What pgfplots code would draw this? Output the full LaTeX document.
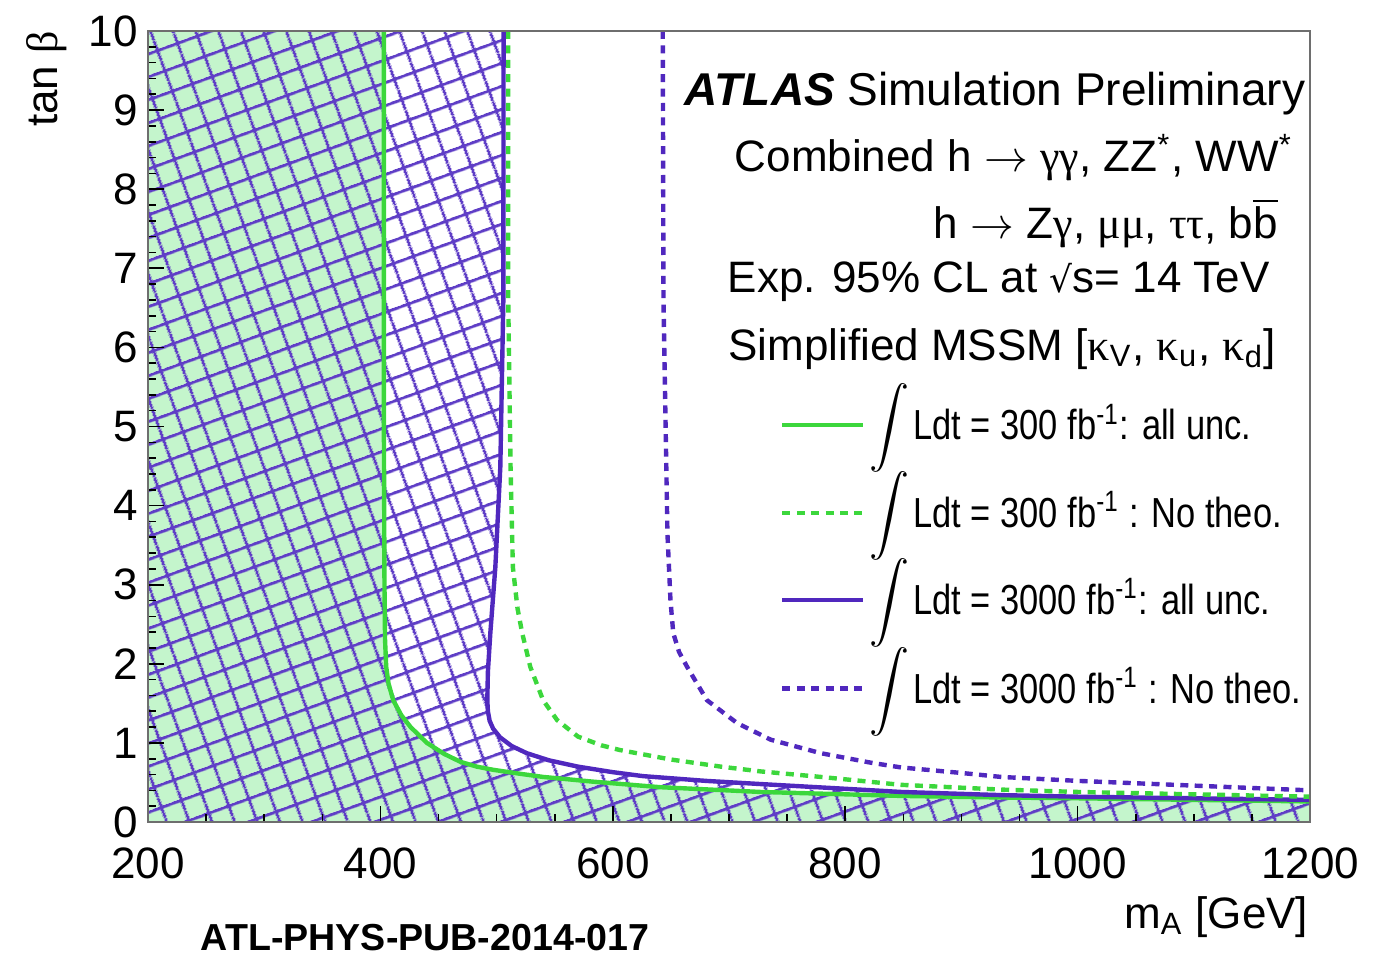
\documentclass[border=0pt]{standalone}
\usepackage{pgfplots}
\pgfplotsset{compat=1.18}
\usepackage{fontspec}
\setmainfont{Liberation Sans}
\newfontfamily\grk{Liberation Serif}
\newfontfamily\dejavu{DejaVu Sans}
\newfontfamily\narrowsf[FakeStretch=0.82]{Liberation Sans}
\usetikzlibrary{patterns.meta}

\definecolor{gline}{RGB}{60,215,60}
\definecolor{pline}{RGB}{80,40,190}
\definecolor{gfill}{RGB}{196,245,204}
\definecolor{hatchc}{RGB}{95,62,198}
\definecolor{framegray}{RGB}{110,110,110}

\tikzdeclarepattern{
  name=rotgrid,
  type=uncolored,
  bottom left={(0pt,0pt)},
  top right={(5.3pt,5.3pt)},
  tile size={(5.3pt,5.3pt)},
  tile transformation={rotate=20},
  code={
    \draw[line width=0.72pt] (0pt,2.65pt) -- (5.3pt,2.65pt) (2.65pt,0pt) -- (2.65pt,5.3pt);
  }
}

\begin{document}
\begin{tikzpicture}
\begin{axis}[
  scale only axis, width=290.5pt, height=197.75pt,
  xmin=200, xmax=1200, ymin=0, ymax=10,
  xtick={200,400,...,1200}, ytick={0,1,...,10},
  minor x tick num=3, minor y tick num=4,
  tick align=inside, tick pos=left,
  major tick length=4pt, minor tick length=2pt,
  axis line style={draw=framegray, line width=0.7pt},
  every tick/.style={black, line width=0.4pt},
  ticklabel style={font=\fontsize{11}{13}\selectfont},
  /pgf/number format/assume math mode=true,
  /pgf/number format/1000 sep={},
  xticklabel style={yshift=-3pt},
  yticklabel style={xshift=1pt},
  clip=false,
  axis on top,
]
\coordinate (sw) at (rel axis cs:0,0);
\coordinate (ne) at (rel axis cs:1,1);

% green filled region (300 fb-1, all unc.)
\addplot[draw=none, fill=gfill] coordinates {
 (200,0) (200,10) (403,10) (403,5) (403.5,3) (404,2.3) (405,1.96) (407,1.75) (411,1.54)
 (418,1.35) (426,1.2) (440,1.0) (455,0.86) (469,0.76) (483,0.7) (497,0.66) (520,0.61)
 (540,0.57) (583,0.51) (641,0.44) (727,0.38) (800,0.35) (848,0.33) (934,0.31) (1000,0.30)
 (1100,0.28) (1200,0.26) (1200,0)} -- cycle;

% purple hatched region (3000 fb-1, all unc.)
\addplot[draw=none, pattern=rotgrid, pattern color=hatchc] coordinates {
 (200,0) (200,10) (506,10) (505.8,6.6) (503.2,4.49) (498.9,3.22) (494.6,2.39) (492.5,1.9)
 (492,1.54) (492.5,1.4) (494,1.28) (497,1.18) (503,1.07) (513,0.96) (526,0.87) (545,0.78)
 (570,0.70) (600,0.63) (626,0.58) (680,0.52) (727,0.48) (800,0.42) (848,0.38) (934,0.34)
 (1000,0.32) (1100,0.30) (1200,0.28) (1200,0)} -- cycle;

% green solid
\addplot[gline, line width=1.1pt] coordinates {
 (403,10) (403,5) (403.5,3) (404,2.3) (405,1.96) (407,1.75) (411,1.54)
 (418,1.35) (426,1.2) (440,1.0) (455,0.86) (469,0.76) (483,0.7) (497,0.66) (520,0.61)
 (540,0.57) (583,0.51) (641,0.44) (727,0.38) (800,0.35) (848,0.33) (934,0.31) (1000,0.30)
 (1100,0.28) (1200,0.26)};

% purple solid
\addplot[pline, line width=1.1pt] coordinates {
 (506,10) (505.8,6.6) (503.2,4.49) (498.9,3.22) (494.6,2.39) (492.5,1.9)
 (492,1.54) (492.5,1.4) (494,1.28) (497,1.18) (503,1.07) (513,0.96) (526,0.87) (545,0.78)
 (570,0.70) (600,0.63) (626,0.58) (680,0.52) (727,0.48) (800,0.42) (848,0.38) (934,0.34)
 (1000,0.32) (1100,0.30) (1200,0.28)};

% green dotted
\addplot[gline, line width=1.1pt, dash pattern=on 2pt off 1.6pt] coordinates {
 (510,10) (510,6.6) (512,4.49) (514,3.22) (518,2.7) (522,2.39) (529,1.96) (540,1.54)
 (552,1.29) (570,1.08) (590,0.97) (606,0.91) (650,0.79) (693,0.70) (727,0.64) (779,0.57)
 (848,0.47) (934,0.41) (1000,0.38) (1100,0.35) (1200,0.32)};

% purple dotted
\addplot[pline, line width=1.1pt, dash pattern=on 2pt off 1.6pt] coordinates {
 (643,10) (643.6,6.6) (647,3.65) (649.6,2.81) (652,2.39) (657,2.15) (664,1.96) (681,1.54)
 (707,1.25) (736,1.04) (779,0.87) (822,0.75) (848,0.69) (900,0.62) (934,0.57) (1000,0.52)
 (1100,0.46) (1200,0.40)};

% text block
\node[anchor=base east, font=\fontsize{11.5}{13}\selectfont, inner sep=0pt] at (axis cs:1196.6,9.06)
  {\textbf{\textit{ATLAS}} Simulation Preliminary};
\node[anchor=base east, font=\fontsize{11}{13}\selectfont, inner sep=0pt] at (axis cs:1186,8.22)
  {Combined h $\rightarrow$ {\grk γγ}, ZZ\textsuperscript{*}, WW\textsuperscript{*}};
\node[anchor=base east, font=\fontsize{11}{13}\selectfont, inner sep=0pt] at (axis cs:1173,7.38)
  {h $\rightarrow$ Z{\grk γ}, {\grk μμ}, {\grk ττ}, b$\overline{\mbox{b}}$};
\node[anchor=base east, font=\fontsize{11}{13}\selectfont, inner sep=0pt] at (axis cs:1166,6.69)
  {Exp. 95\% CL at {\dejavu\fontsize{9}{11}\selectfont √}s= 14 TeV};
\node[anchor=base east, font=\fontsize{11}{13}\selectfont, inner sep=0pt] at (axis cs:1171.6,5.84)
  {Simplified MSSM [{\grk κ}\textsubscript{V}, {\grk κ}\textsubscript{u}, {\grk κ}\textsubscript{d}]};

% legend
\draw[gline, line width=1.1pt] (axis cs:746,5.02) -- (axis cs:815,5.02);
\draw[gline, line width=1.1pt, dash pattern=on 2pt off 1.6pt] (axis cs:746,3.91) -- (axis cs:815,3.91);
\draw[pline, line width=1.1pt] (axis cs:746,2.81) -- (axis cs:815,2.81);
\draw[pline, line width=1.1pt, dash pattern=on 2pt off 1.6pt] (axis cs:746,1.69) -- (axis cs:815,1.69);
\node[font=\fontsize{7.5}{9}\selectfont, inner sep=0pt] at (axis cs:838,4.98) {$\displaystyle\int$};
\node[font=\fontsize{7.5}{9}\selectfont, inner sep=0pt] at (axis cs:838,3.87) {$\displaystyle\int$};
\node[font=\fontsize{7.5}{9}\selectfont, inner sep=0pt] at (axis cs:838,2.77) {$\displaystyle\int$};
\node[font=\fontsize{7.5}{9}\selectfont, inner sep=0pt] at (axis cs:838,1.65) {$\displaystyle\int$};
\node[anchor=base west, font=\narrowsf\fontsize{10.5}{12}\selectfont, inner sep=0pt] at (axis cs:858,4.83)
  {Ldt = 300 fb\textsuperscript{-1}: all unc.};
\node[anchor=base west, font=\narrowsf\fontsize{10.5}{12}\selectfont, inner sep=0pt] at (axis cs:858,3.72)
  {Ldt = 300 fb\textsuperscript{-1} : No theo.};
\node[anchor=base west, font=\narrowsf\fontsize{10.5}{12}\selectfont, inner sep=0pt] at (axis cs:858,2.62)
  {Ldt = 3000 fb\textsuperscript{-1}: all unc.};
\node[anchor=base west, font=\narrowsf\fontsize{10.5}{12}\selectfont, inner sep=0pt] at (axis cs:858,1.50)
  {Ldt = 3000 fb\textsuperscript{-1} : No theo.};

% axis labels
\node[anchor=base east, font=\fontsize{11}{13}\selectfont, inner sep=0pt] at (axis cs:1199,-1.34)
  {m\textsubscript{A} [GeV]};
\node[anchor=base east, rotate=90, font=\fontsize{11}{13}\selectfont, inner sep=0pt] at (axis cs:122.5,10.01)
  {tan {\grk β}};
\node[anchor=west, font=\bfseries\fontsize{9.4}{11}\selectfont, inner sep=0pt] at (axis cs:244.8,-1.467)
  {ATL-PHYS-PUB-2014-017};
\end{axis}
\pgfresetboundingbox
\path[use as bounding box] ([xshift=-37pt,yshift=-32.75pt]sw) rectangle ([xshift=19.75pt,yshift=7.75pt]ne);
\end{tikzpicture}
\end{document}
